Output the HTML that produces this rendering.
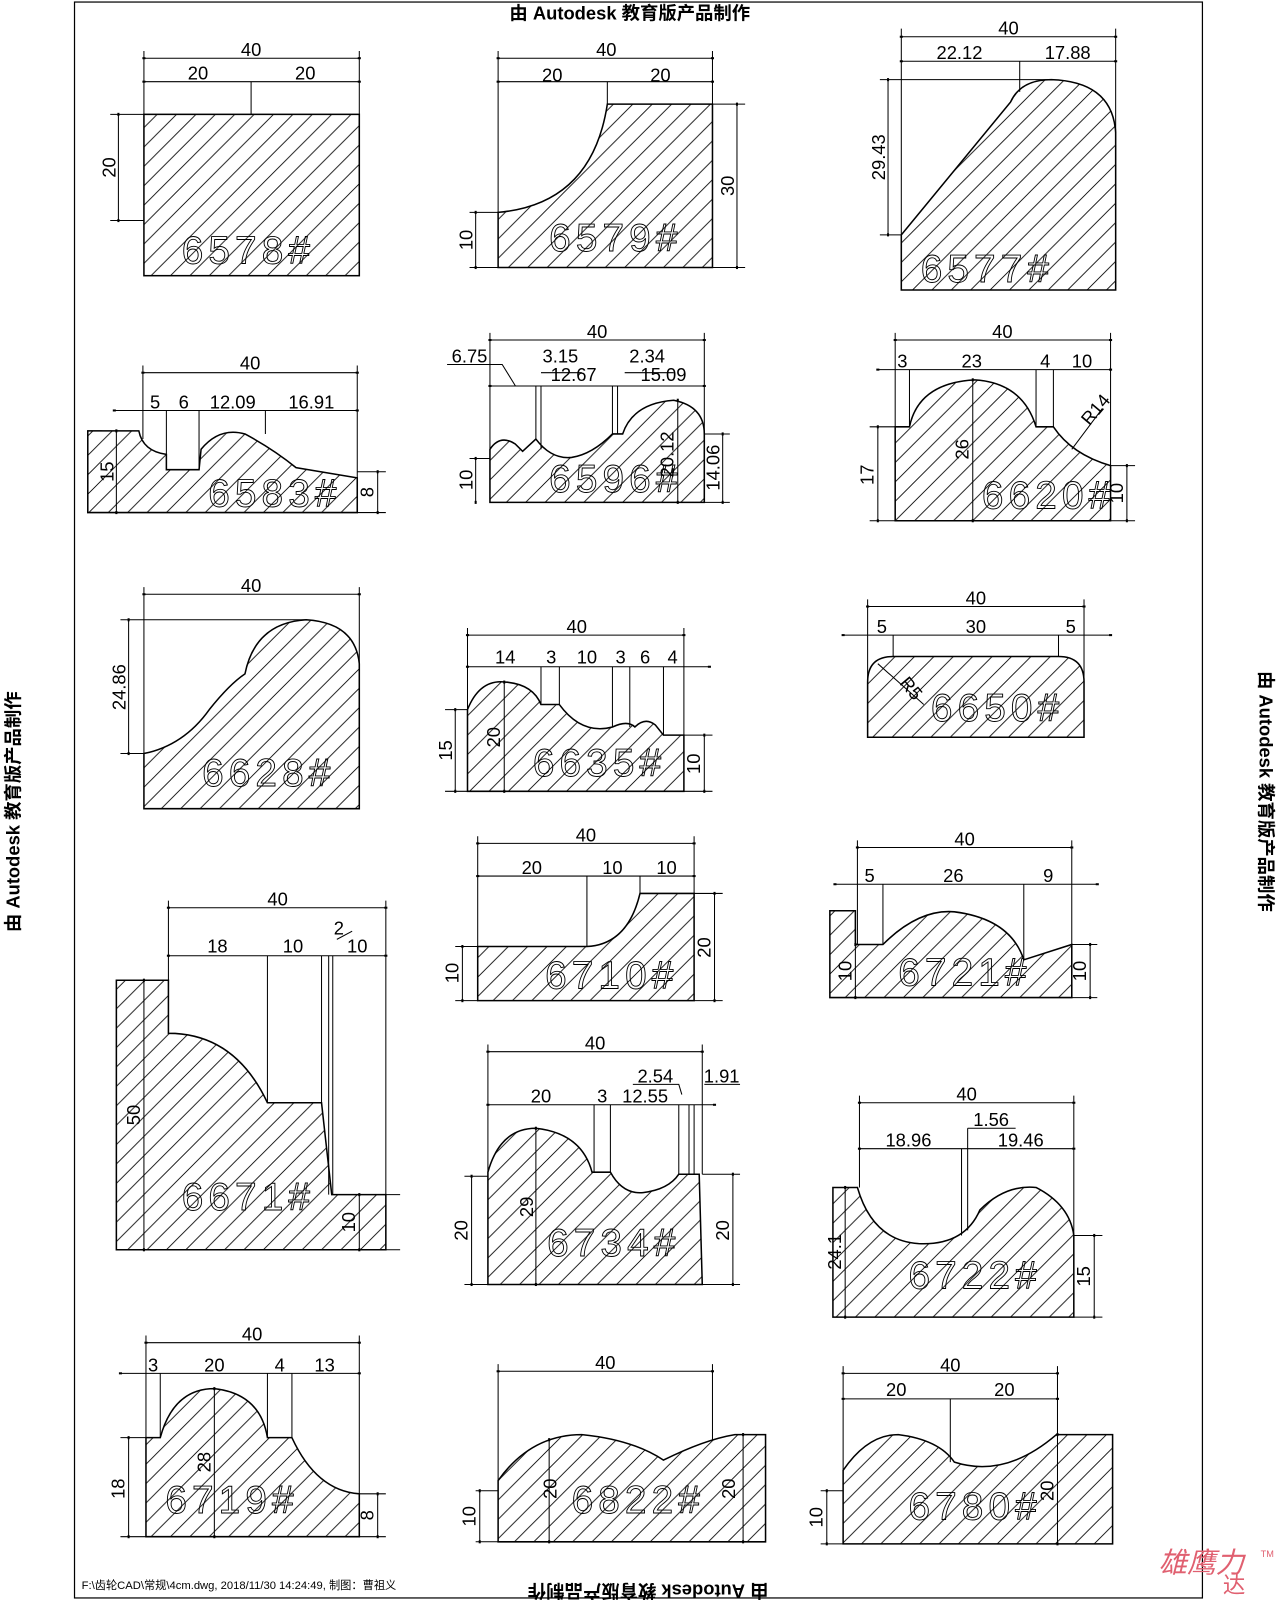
<!DOCTYPE html>
<html><head><meta charset="utf-8"><style>
html,body{margin:0;padding:0;background:#fff}
svg{display:block}
text{font-family:"Liberation Sans","Noto Sans CJK SC",sans-serif}
.d{font-size:18px;fill:#000}
.L{font-size:38px;fill:none;stroke:#000;stroke-width:0.9;letter-spacing:5px}
.s{fill:url(#h);stroke:#000;stroke-width:1.5}
.ln{stroke:#000;stroke-width:1;fill:none}
.dm{stroke:#000;stroke-width:1;marker-start:url(#a);marker-end:url(#a)}
.hd{font-size:18px;font-weight:bold}
</style></head><body>
<svg width="1280" height="1600" viewBox="0 0 1254 1567" preserveAspectRatio="none">
<defs>
<pattern id="h" patternUnits="userSpaceOnUse" width="19" height="19"><path d="M-2,21 L21,-2 M-4,4 L4,-4 M15,23 L23,15" stroke="#000" stroke-width="0.8"/></pattern>
<marker id="a" viewBox="0 0 10 10" refX="5" refY="5" markerWidth="5" markerHeight="5" orient="auto"><rect x="2" y="3" width="6" height="4" fill="#000"/></marker>
</defs>
<rect x="73" y="2" width="1105" height="1563" fill="none" stroke="#000" stroke-width="1.2"/>
<text x="617" y="19" text-anchor="middle" class="hd">由 Autodesk 教育版产品制作</text>
<text transform="translate(635,1552) rotate(180)" text-anchor="middle" class="hd">由 Autodesk 教育版产品制作</text>
<text transform="translate(19,795) rotate(-90)" text-anchor="middle" class="hd">由 Autodesk 教育版产品制作</text>
<text transform="translate(1234,775) rotate(90)" text-anchor="middle" class="hd">由 Autodesk 教育版产品制作</text>
<text x="80" y="1556" font-size="11">F:\齿轮CAD\常规\4cm.dwg, 2018/11/30 14:24:49, 制图：曹祖义</text>
<text x="1135" y="1540" font-size="28" fill="#e06070" font-style="italic">雄鹰力</text>
<text x="1198" y="1560" font-size="22" fill="#e06070">达</text>
<text x="1235" y="1525" font-size="9" fill="#e06070">TM</text>

<!-- 6578 -->
<rect x="141" y="112" width="211" height="158" class="s"/>
<line x1="141" y1="57" x2="352" y2="57" class="dm"/><line x1="141" y1="80" x2="352" y2="80" class="dm"/>
<path class="ln" d="M141,50V112M352,50V112M246,80V112M108,112H141M108,216H141"/>
<line x1="116" y1="112" x2="116" y2="216" class="dm"/>
<text x="246" y="55" class="d" text-anchor="middle">40</text><text x="194" y="78" class="d" text-anchor="middle">20</text><text x="299" y="78" class="d" text-anchor="middle">20</text>
<text transform="translate(113,164) rotate(-90)" class="d" text-anchor="middle">20</text>
<text x="178" y="258" class="L">6578#</text>

<!-- 6579 -->
<path class="s" d="M595,102H698V262H488V208Q580,200 595,102Z"/>
<line x1="488" y1="57" x2="698" y2="57" class="dm"/><line x1="488" y1="80" x2="698" y2="80" class="dm"/>
<path class="ln" d="M488,50V208M698,50V102M595,80V102M698,102H730M698,262H730M460,208H488M460,262H488"/>
<line x1="722" y1="102" x2="722" y2="262" class="dm"/><line x1="466" y1="208" x2="466" y2="262" class="dm"/>
<text x="594" y="55" class="d" text-anchor="middle">40</text><text x="541" y="80" class="d" text-anchor="middle">20</text><text x="647" y="80" class="d" text-anchor="middle">20</text>
<text transform="translate(719,182) rotate(-90)" class="d" text-anchor="middle">30</text><text transform="translate(463,235) rotate(-90)" class="d" text-anchor="middle">10</text>
<text x="538" y="246" class="L">6579#</text>

<!-- 6577 -->
<path class="s" d="M883,230L990,100Q1000,78 1030,78Q1090,80 1093,130V284H883Z"/>
<line x1="883" y1="36" x2="1093" y2="36" class="dm"/><line x1="883" y1="60" x2="1093" y2="60" class="dm"/>
<path class="ln" d="M883,28V230M1093,28V130M999,60V90M862,78H1030M862,230H883"/>
<line x1="870" y1="78" x2="870" y2="230" class="dm"/>
<text x="988" y="34" class="d" text-anchor="middle">40</text><text x="940" y="58" class="d" text-anchor="middle">22.12</text><text x="1046" y="58" class="d" text-anchor="middle">17.88</text>
<text transform="translate(867,154) rotate(-90)" class="d" text-anchor="middle">29.43</text>
<text x="902" y="276" class="L">6577#</text>

<!-- 6583 -->
<path class="s" d="M86,422H136Q140,442 163,445V460H195L197,440Q215,418 240,425Q268,440 290,458L350,468V502H86Z"/>
<line x1="140" y1="365" x2="350" y2="365" class="dm"/><line x1="112" y1="402" x2="350" y2="402" class="dm"/>
<path class="ln" d="M140,358V430M350,358V470M163,402V445M195,402V460M260,402V425M100,422H86M350,462H378M350,502H378"/>
<line x1="114" y1="422" x2="114" y2="502" class="dm"/><line x1="370" y1="462" x2="370" y2="502" class="dm"/>
<text x="245" y="362" class="d" text-anchor="middle">40</text><text x="152" y="400" class="d" text-anchor="middle">5</text><text x="180" y="400" class="d" text-anchor="middle">6</text><text x="228" y="400" class="d" text-anchor="middle">12.09</text><text x="305" y="400" class="d" text-anchor="middle">16.91</text>
<text transform="translate(111,462) rotate(-90)" class="d" text-anchor="middle">15</text><text transform="translate(366,482) rotate(-90)" class="d" text-anchor="middle">8</text>
<text x="204" y="496" class="L">6583#</text>

<!-- 6596 -->
<path class="s" d="M480,440Q490,425 505,435L512,442L525,430Q540,450 560,448Q580,445 600,425L610,425Q620,395 660,392Q690,398 690,425V492H480Z"/>
<line x1="480" y1="333" x2="690" y2="333" class="dm"/><line x1="480" y1="378" x2="690" y2="378" class="dm"/>
<path class="ln" d="M480,326V492M690,326V425M525,378V430M530,378V440M600,378V425M605,378V425M438,357H492L505,378M530,365H570M612,365H660M460,449H480M690,425H715M690,492H715"/>
<line x1="466" y1="449" x2="466" y2="492" class="dm"/><line x1="664" y1="392" x2="664" y2="492" class="dm"/><line x1="708" y1="425" x2="708" y2="492" class="dm"/>
<text x="585" y="331" class="d" text-anchor="middle">40</text><text x="460" y="355" class="d" text-anchor="middle">6.75</text><text x="549" y="355" class="d" text-anchor="middle">3.15</text><text x="562" y="373" class="d" text-anchor="middle">12.67</text><text x="634" y="355" class="d" text-anchor="middle">2.34</text><text x="650" y="373" class="d" text-anchor="middle">15.09</text>
<text transform="translate(463,470) rotate(-90)" class="d" text-anchor="middle">10</text><text transform="translate(660,445) rotate(-90)" class="d" text-anchor="middle">20.12</text><text transform="translate(705,458) rotate(-90)" class="d" text-anchor="middle">14.06</text>
<text x="538" y="482" class="L">6596#</text>

<!-- 6620 -->
<path class="s" d="M877,418H891Q900,375 955,372Q1002,375 1015,418H1032Q1050,445 1088,456V510H877Z"/>
<line x1="877" y1="333" x2="1088" y2="333" class="dm"/><line x1="860" y1="362" x2="1088" y2="362" class="dm"/>
<path class="ln" d="M877,326V418M1088,326V456M891,362V418M1015,362V418M1032,362V418M852,418H877M852,510H877M1088,456H1112M1088,510H1112M1050,440L1080,400"/>
<line x1="860" y1="418" x2="860" y2="510" class="dm"/><line x1="953" y1="372" x2="953" y2="510" class="dm"/><line x1="1104" y1="456" x2="1104" y2="510" class="dm"/>
<text x="982" y="331" class="d" text-anchor="middle">40</text><text x="884" y="360" class="d" text-anchor="middle">3</text><text x="952" y="360" class="d" text-anchor="middle">23</text><text x="1024" y="360" class="d" text-anchor="middle">4</text><text x="1060" y="360" class="d" text-anchor="middle">10</text>
<text transform="translate(1078,405) rotate(-50)" class="d" text-anchor="middle">R14</text>
<text transform="translate(856,465) rotate(-90)" class="d" text-anchor="middle">17</text><text transform="translate(949,440) rotate(-90)" class="d" text-anchor="middle">26</text><text transform="translate(1100,483) rotate(-90)" class="d" text-anchor="middle">10</text>
<text x="962" y="498" class="L">6620#</text>

<!-- 6628 -->
<path class="s" d="M141,738Q180,730 205,695Q225,670 240,660Q250,610 300,607Q348,610 352,650V792H141Z"/>
<line x1="141" y1="582" x2="352" y2="582" class="dm"/>
<path class="ln" d="M141,575V738M352,575V650M118,607H300M118,738H141"/>
<line x1="126" y1="607" x2="126" y2="738" class="dm"/>
<text x="246" y="580" class="d" text-anchor="middle">40</text><text transform="translate(123,673) rotate(-90)" class="d" text-anchor="middle">24.86</text>
<text x="198" y="770" class="L">6628#</text>

<!-- 6635 -->
<path class="s" d="M458,695Q470,665 495,668Q522,670 530,690H548Q570,720 600,712Q615,705 622,712Q632,702 642,710L650,720H670V775H458Z"/>
<line x1="458" y1="622" x2="670" y2="622" class="dm"/><line x1="458" y1="653" x2="695" y2="653" class="dm"/>
<path class="ln" d="M458,615V695M670,615V720M530,653V690M548,653V690M600,653V712M617,653V712M650,653V720M436,695H458M436,775H458M670,720H698M670,775H698"/>
<line x1="446" y1="695" x2="446" y2="775" class="dm"/><line x1="494" y1="668" x2="494" y2="775" class="dm"/><line x1="690" y1="720" x2="690" y2="775" class="dm"/>
<text x="565" y="620" class="d" text-anchor="middle">40</text><text x="495" y="650" class="d" text-anchor="middle">14</text><text x="540" y="650" class="d" text-anchor="middle">3</text><text x="575" y="650" class="d" text-anchor="middle">10</text><text x="608" y="650" class="d" text-anchor="middle">3</text><text x="632" y="650" class="d" text-anchor="middle">6</text><text x="659" y="650" class="d" text-anchor="middle">4</text>
<text transform="translate(443,735) rotate(-90)" class="d" text-anchor="middle">15</text><text transform="translate(490,722) rotate(-90)" class="d" text-anchor="middle">20</text><text transform="translate(686,748) rotate(-90)" class="d" text-anchor="middle">10</text>
<text x="522" y="760" class="L">6635#</text>

<!-- 6650 -->
<path class="s" d="M850,668Q850,643 875,643H1037Q1062,643 1062,668V722H850Z"/>
<line x1="850" y1="594" x2="1062" y2="594" class="dm"/><line x1="826" y1="622" x2="1088" y2="622" class="dm"/>
<path class="ln" d="M850,587V668M1062,587V668M875,622V643M1037,622V643M860,650L905,690"/>
<text x="956" y="592" class="d" text-anchor="middle">40</text><text x="864" y="620" class="d" text-anchor="middle">5</text><text x="956" y="620" class="d" text-anchor="middle">30</text><text x="1049" y="620" class="d" text-anchor="middle">5</text>
<text transform="translate(888,678) rotate(50)" class="d" text-anchor="middle">R5</text>
<text x="912" y="706" class="L">6650#</text>

<!-- 6671 -->
<path class="s" d="M114,960H165V1012Q230,1012 262,1080H315L325,1170H378V1224H114Z"/>
<line x1="165" y1="889" x2="378" y2="889" class="dm"/><line x1="165" y1="936" x2="378" y2="936" class="dm"/>
<path class="ln" d="M165,882V960M378,882V1170M262,936V1080M315,936V1080M322,936V1170M326,936V1170M330,920L345,912M378,1170H392M378,1224H392"/>
<line x1="141" y1="960" x2="141" y2="1224" class="dm"/><line x1="352" y1="1170" x2="352" y2="1224" class="dm"/>
<text x="272" y="887" class="d" text-anchor="middle">40</text><text x="213" y="933" class="d" text-anchor="middle">18</text><text x="287" y="933" class="d" text-anchor="middle">10</text><text x="332" y="915" class="d" text-anchor="middle">2</text><text x="350" y="933" class="d" text-anchor="middle">10</text>
<text transform="translate(137,1092) rotate(-90)" class="d" text-anchor="middle">50</text><text transform="translate(348,1197) rotate(-90)" class="d" text-anchor="middle">10</text>
<text x="178" y="1185" class="L">6671#</text>

<!-- 6710 -->
<path class="s" d="M468,927H575Q615,925 627,875H680V980H468Z"/>
<line x1="468" y1="826" x2="680" y2="826" class="dm"/><line x1="468" y1="858" x2="680" y2="858" class="dm"/>
<path class="ln" d="M468,819V927M680,819V875M575,858V927M627,858V875M446,927H468M446,980H468M680,875H708M680,980H708"/>
<line x1="453" y1="927" x2="453" y2="980" class="dm"/><line x1="700" y1="875" x2="700" y2="980" class="dm"/>
<text x="574" y="824" class="d" text-anchor="middle">40</text><text x="521" y="856" class="d" text-anchor="middle">20</text><text x="600" y="856" class="d" text-anchor="middle">10</text><text x="653" y="856" class="d" text-anchor="middle">10</text>
<text transform="translate(449,953) rotate(-90)" class="d" text-anchor="middle">10</text><text transform="translate(696,928) rotate(-90)" class="d" text-anchor="middle">20</text>
<text x="534" y="968" class="L">6710#</text>

<!-- 6721 -->
<path class="s" d="M813,892H838V925H865Q900,890 935,893Q990,900 1003,940L1050,925V977H813Z"/>
<line x1="840" y1="830" x2="1050" y2="830" class="dm"/><line x1="818" y1="866" x2="1075" y2="866" class="dm"/>
<path class="ln" d="M840,823V925M1050,823V925M865,866V925M1003,866V940M1050,925H1075M1050,977H1075"/>
<line x1="838" y1="925" x2="838" y2="977" class="dm"/><line x1="1068" y1="925" x2="1068" y2="977" class="dm"/>
<text x="945" y="828" class="d" text-anchor="middle">40</text><text x="852" y="864" class="d" text-anchor="middle">5</text><text x="934" y="864" class="d" text-anchor="middle">26</text><text x="1027" y="864" class="d" text-anchor="middle">9</text>
<text transform="translate(834,951) rotate(-90)" class="d" text-anchor="middle">10</text><text transform="translate(1064,951) rotate(-90)" class="d" text-anchor="middle">10</text>
<text x="880" y="965" class="L">6721#</text>

<!-- 6734 -->
<path class="s" d="M478,1148Q490,1105 525,1105Q570,1110 580,1148H598Q610,1170 630,1168Q655,1165 665,1150H685L688,1258H478Z"/>
<line x1="478" y1="1030" x2="688" y2="1030" class="dm"/><line x1="478" y1="1082" x2="700" y2="1082" class="dm"/>
<path class="ln" d="M478,1023V1148M688,1023V1150M582,1082V1148M598,1082V1148M665,1082V1150M675,1082V1150M680,1082V1150M620,1062H665L668,1072M690,1062H725M455,1152H478M455,1258H478M688,1150H725M688,1258H725"/>
<line x1="462" y1="1152" x2="462" y2="1258" class="dm"/><line x1="525" y1="1105" x2="525" y2="1258" class="dm"/><line x1="718" y1="1150" x2="718" y2="1258" class="dm"/>
<text x="583" y="1028" class="d" text-anchor="middle">40</text><text x="530" y="1080" class="d" text-anchor="middle">20</text><text x="590" y="1080" class="d" text-anchor="middle">3</text><text x="632" y="1080" class="d" text-anchor="middle">12.55</text><text x="642" y="1060" class="d" text-anchor="middle">2.54</text><text x="707" y="1060" class="d" text-anchor="middle">1.91</text>
<text transform="translate(458,1205) rotate(-90)" class="d" text-anchor="middle">20</text><text transform="translate(522,1182) rotate(-90)" class="d" text-anchor="middle">29</text><text transform="translate(714,1205) rotate(-90)" class="d" text-anchor="middle">20</text>
<text x="536" y="1230" class="L">6734#</text>

<!-- 6722 -->
<path class="s" d="M816,1163H840Q855,1215 900,1218Q945,1220 960,1185Q985,1160 1015,1163Q1048,1180 1052,1210V1290H816Z"/>
<line x1="842" y1="1080" x2="1052" y2="1080" class="dm"/><line x1="842" y1="1125" x2="1052" y2="1125" class="dm"/>
<path class="ln" d="M842,1073V1163M1052,1073V1210M942,1125V1210M948,1105V1205M948,1105H995M1052,1210H1080M1052,1290H1080"/>
<line x1="828" y1="1163" x2="828" y2="1290" class="dm"/><line x1="1072" y1="1210" x2="1072" y2="1290" class="dm"/>
<text x="947" y="1078" class="d" text-anchor="middle">40</text><text x="971" y="1103" class="d" text-anchor="middle">1.56</text><text x="890" y="1123" class="d" text-anchor="middle">18.96</text><text x="1000" y="1123" class="d" text-anchor="middle">19.46</text>
<text transform="translate(824,1226) rotate(-90)" class="d" text-anchor="middle">24.1</text><text transform="translate(1068,1250) rotate(-90)" class="d" text-anchor="middle">15</text>
<text x="890" y="1262" class="L">6722#</text>

<!-- 6719 -->
<path class="s" d="M143,1408H157Q170,1360 210,1360Q255,1365 262,1408H286Q310,1460 352,1463V1505H143Z"/>
<line x1="143" y1="1315" x2="352" y2="1315" class="dm"/><line x1="118" y1="1345" x2="352" y2="1345" class="dm"/>
<path class="ln" d="M143,1308V1408M352,1308V1463M157,1345V1408M262,1345V1408M286,1345V1408M118,1408H143M118,1505H143M352,1463H378M352,1505H378"/>
<line x1="126" y1="1408" x2="126" y2="1505" class="dm"/><line x1="210" y1="1360" x2="210" y2="1505" class="dm"/><line x1="370" y1="1463" x2="370" y2="1505" class="dm"/>
<text x="247" y="1313" class="d" text-anchor="middle">40</text><text x="150" y="1343" class="d" text-anchor="middle">3</text><text x="210" y="1343" class="d" text-anchor="middle">20</text><text x="274" y="1343" class="d" text-anchor="middle">4</text><text x="318" y="1343" class="d" text-anchor="middle">13</text>
<text transform="translate(122,1458) rotate(-90)" class="d" text-anchor="middle">18</text><text transform="translate(206,1432) rotate(-90)" class="d" text-anchor="middle">28</text><text transform="translate(366,1484) rotate(-90)" class="d" text-anchor="middle">8</text>
<text x="162" y="1482" class="L">6719#</text>

<!-- 6822 -->
<path class="s" d="M488,1450Q520,1405 570,1405Q620,1410 650,1430Q690,1410 720,1405H750V1510H488Z"/>
<line x1="488" y1="1343" x2="698" y2="1343" class="dm"/>
<path class="ln" d="M488,1336V1450M698,1336V1410M466,1460H488M466,1510H488M750,1405H735M750,1510H735"/>
<line x1="470" y1="1460" x2="470" y2="1510" class="dm"/><line x1="538" y1="1410" x2="538" y2="1510" class="dm"/><line x1="728" y1="1405" x2="728" y2="1510" class="dm"/>
<text x="593" y="1341" class="d" text-anchor="middle">40</text>
<text transform="translate(466,1485) rotate(-90)" class="d" text-anchor="middle">10</text><text transform="translate(545,1458) rotate(-90)" class="d" text-anchor="middle">20</text><text transform="translate(720,1458) rotate(-90)" class="d" text-anchor="middle">20</text>
<text x="560" y="1482" class="L">6822#</text>

<!-- 6780 -->
<path class="s" d="M826,1440Q850,1405 880,1405Q920,1410 935,1432Q985,1448 1035,1405H1090V1512H826Z"/>
<line x1="826" y1="1345" x2="1036" y2="1345" class="dm"/><line x1="826" y1="1370" x2="1036" y2="1370" class="dm"/>
<path class="ln" d="M826,1338V1440M1036,1338V1405M931,1370V1432M804,1460H826M804,1512H826"/>
<line x1="810" y1="1460" x2="810" y2="1512" class="dm"/><line x1="1036" y1="1405" x2="1036" y2="1512" class="dm"/>
<text x="931" y="1343" class="d" text-anchor="middle">40</text><text x="878" y="1367" class="d" text-anchor="middle">20</text><text x="984" y="1367" class="d" text-anchor="middle">20</text>
<text transform="translate(806,1486) rotate(-90)" class="d" text-anchor="middle">10</text><text transform="translate(1032,1460) rotate(-90)" class="d" text-anchor="middle">20</text>
<text x="890" y="1488" class="L">6780#</text>
</svg>
</body></html>
